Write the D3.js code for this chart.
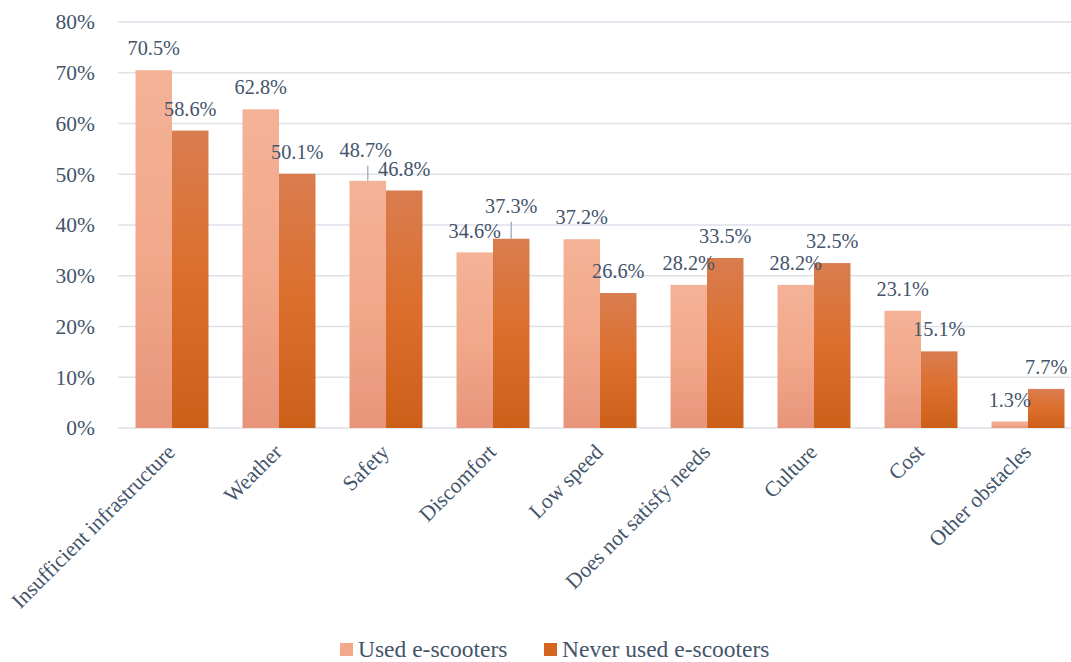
<!DOCTYPE html>
<html>
<head>
<meta charset="utf-8">
<script src="https://cdn.jsdelivr.net/npm/d3@7/dist/d3.min.js"></script>
<style>
  html, body { margin: 0; padding: 0; background: #ffffff; }
  svg { display: block; }
</style>
</head>
<body>
<svg id="chart" width="1071" height="662"></svg>
<script>
// ---- data ----
const categories = ["Insufficient infrastructure", "Weather", "Safety", "Discomfort", "Low speed",
  "Does not satisfy needs", "Culture", "Cost", "Other obstacles"];
const seriesNames = ["Used e-scooters", "Never used e-scooters"];
const usedValues = [0.705, 0.628, 0.487, 0.346, 0.372, 0.282, 0.282, 0.231, 0.013];
const neverValues = [0.586, 0.501, 0.468, 0.373, 0.266, 0.335, 0.325, 0.151, 0.077];
const yTicks = [0, 0.1, 0.2, 0.3, 0.4, 0.5, 0.6, 0.7, 0.8];

// ---- layout / style ----
const W = 1071, H = 662;
const plot = { left: 118.5, right: 1081.5, top: 22, bottom: 428 };
const textColor = "#44546a";
const gridColor = "#dde1e8";
const FONT = "'Liberation Serif', 'Times New Roman', Times, 'DejaVu Serif', serif";
// label placement overrides (series index, category index) -> offset from bar top
const labelOverrides = {
  "0|2": { dx: -2, dy: -31, leader: true },
  "1|3": { dx: 0, dy: -33, leader: true }
};

const svg = d3.select("#chart");
const defs = svg.append("defs");

function grad(id, stops) {
  const g = defs.append("linearGradient").attr("id", id)
    .attr("x1", 0).attr("y1", 0).attr("x2", 0).attr("y2", 1);
  stops.forEach(s => g.append("stop").attr("offset", s[0]).attr("stop-color", s[1]));
}
grad("gUsed", [[0, "#f4b297"], [0.5, "#f2a88a"], [1, "#e8957a"]]);
grad("gNever", [[0, "#d97d4f"], [0.5, "#dc6e2c"], [1, "#cc6019"]]);
const fills = ["url(#gUsed)", "url(#gNever)"];
const swatchColors = ["#f2a98a", "#d4661f"];

const x = d3.scaleBand().domain(categories)
  .range([plot.left, plot.right]).paddingInner(0.318).paddingOuter(0.159);
const xs = d3.scaleBand().domain([0, 1]).range([0, x.bandwidth()]);
const y = d3.scaleLinear().domain([0, 0.8]).range([plot.bottom, plot.top]);

// gridlines
svg.append("g").selectAll("line").data(yTicks).join("line")
  .attr("x1", 118).attr("x2", W)
  .attr("y1", d => y(d)).attr("y2", d => y(d))
  .attr("stroke", gridColor).attr("stroke-width", 1.5);

// y axis labels
const yAxis = d3.axisLeft(y).tickValues(yTicks).tickFormat(d3.format(".0%")).tickSize(0).tickPadding(0);
const yg = svg.append("g").attr("transform", "translate(95,0)").call(yAxis)
  .attr("font-family", FONT).attr("font-size", "21.5px");
yg.select(".domain").remove();
yg.selectAll("text").attr("fill", textColor).attr("font-family", FONT).attr("font-size", "21.5px");

// bars
const series = [usedValues, neverValues];
series.forEach((vals, si) => {
  svg.append("g").selectAll("rect").data(vals).join("rect")
    .attr("x", (d, i) => x(categories[i]) + xs(si))
    .attr("width", xs.bandwidth())
    .attr("y", d => y(d))
    .attr("height", d => y(0) - y(d))
    .attr("fill", fills[si]);
});

// data labels
const fmt = d3.format(".1%");
series.forEach((vals, si) => {
  vals.forEach((v, i) => {
    const cx = x(categories[i]) + xs(si) + xs.bandwidth() / 2;
    const top = y(v);
    const o = labelOverrides[si + "|" + i] || { dx: 0, dy: -22, leader: false };
    if (o.leader) {
      svg.append("line")
        .attr("x1", cx).attr("x2", cx)
        .attr("y1", top).attr("y2", top + o.dy + 16)
        .attr("stroke", "#aab5c5").attr("stroke-width", 1.5);
    }
    svg.append("text")
      .attr("x", cx + o.dx).attr("y", top + o.dy)
      .attr("dy", "0.35em")
      .attr("text-anchor", "middle")
      .attr("font-family", FONT)
      .attr("font-size", "20.3px")
      .attr("fill", textColor)
      .text(fmt(v));
  });
});

// x axis labels
svg.append("g").selectAll("text").data(categories).join("text")
  .attr("transform", d => `translate(${x(d) + x.bandwidth() / 2 - 1},${448}) rotate(-45)`)
  .attr("text-anchor", "end")
  .attr("dy", "0.35em")
  .attr("font-family", FONT)
  .attr("font-size", "21.6px")
  .attr("fill", textColor)
  .text(d => d);

// legend
const legendItems = [
  { name: seriesNames[0], color: swatchColors[0], sx: 340, tx: 358 },
  { name: seriesNames[1], color: swatchColors[1], sx: 544, tx: 562 }
];
const lg = svg.append("g");
legendItems.forEach(it => {
  lg.append("rect").attr("x", it.sx).attr("y", 643).attr("width", 13).attr("height", 13).attr("fill", it.color);
  lg.append("text").attr("x", it.tx).attr("y", 657)
    .attr("font-family", FONT).attr("font-size", "23.5px").attr("fill", textColor)
    .text(it.name);
});
</script>
</body>
</html>
